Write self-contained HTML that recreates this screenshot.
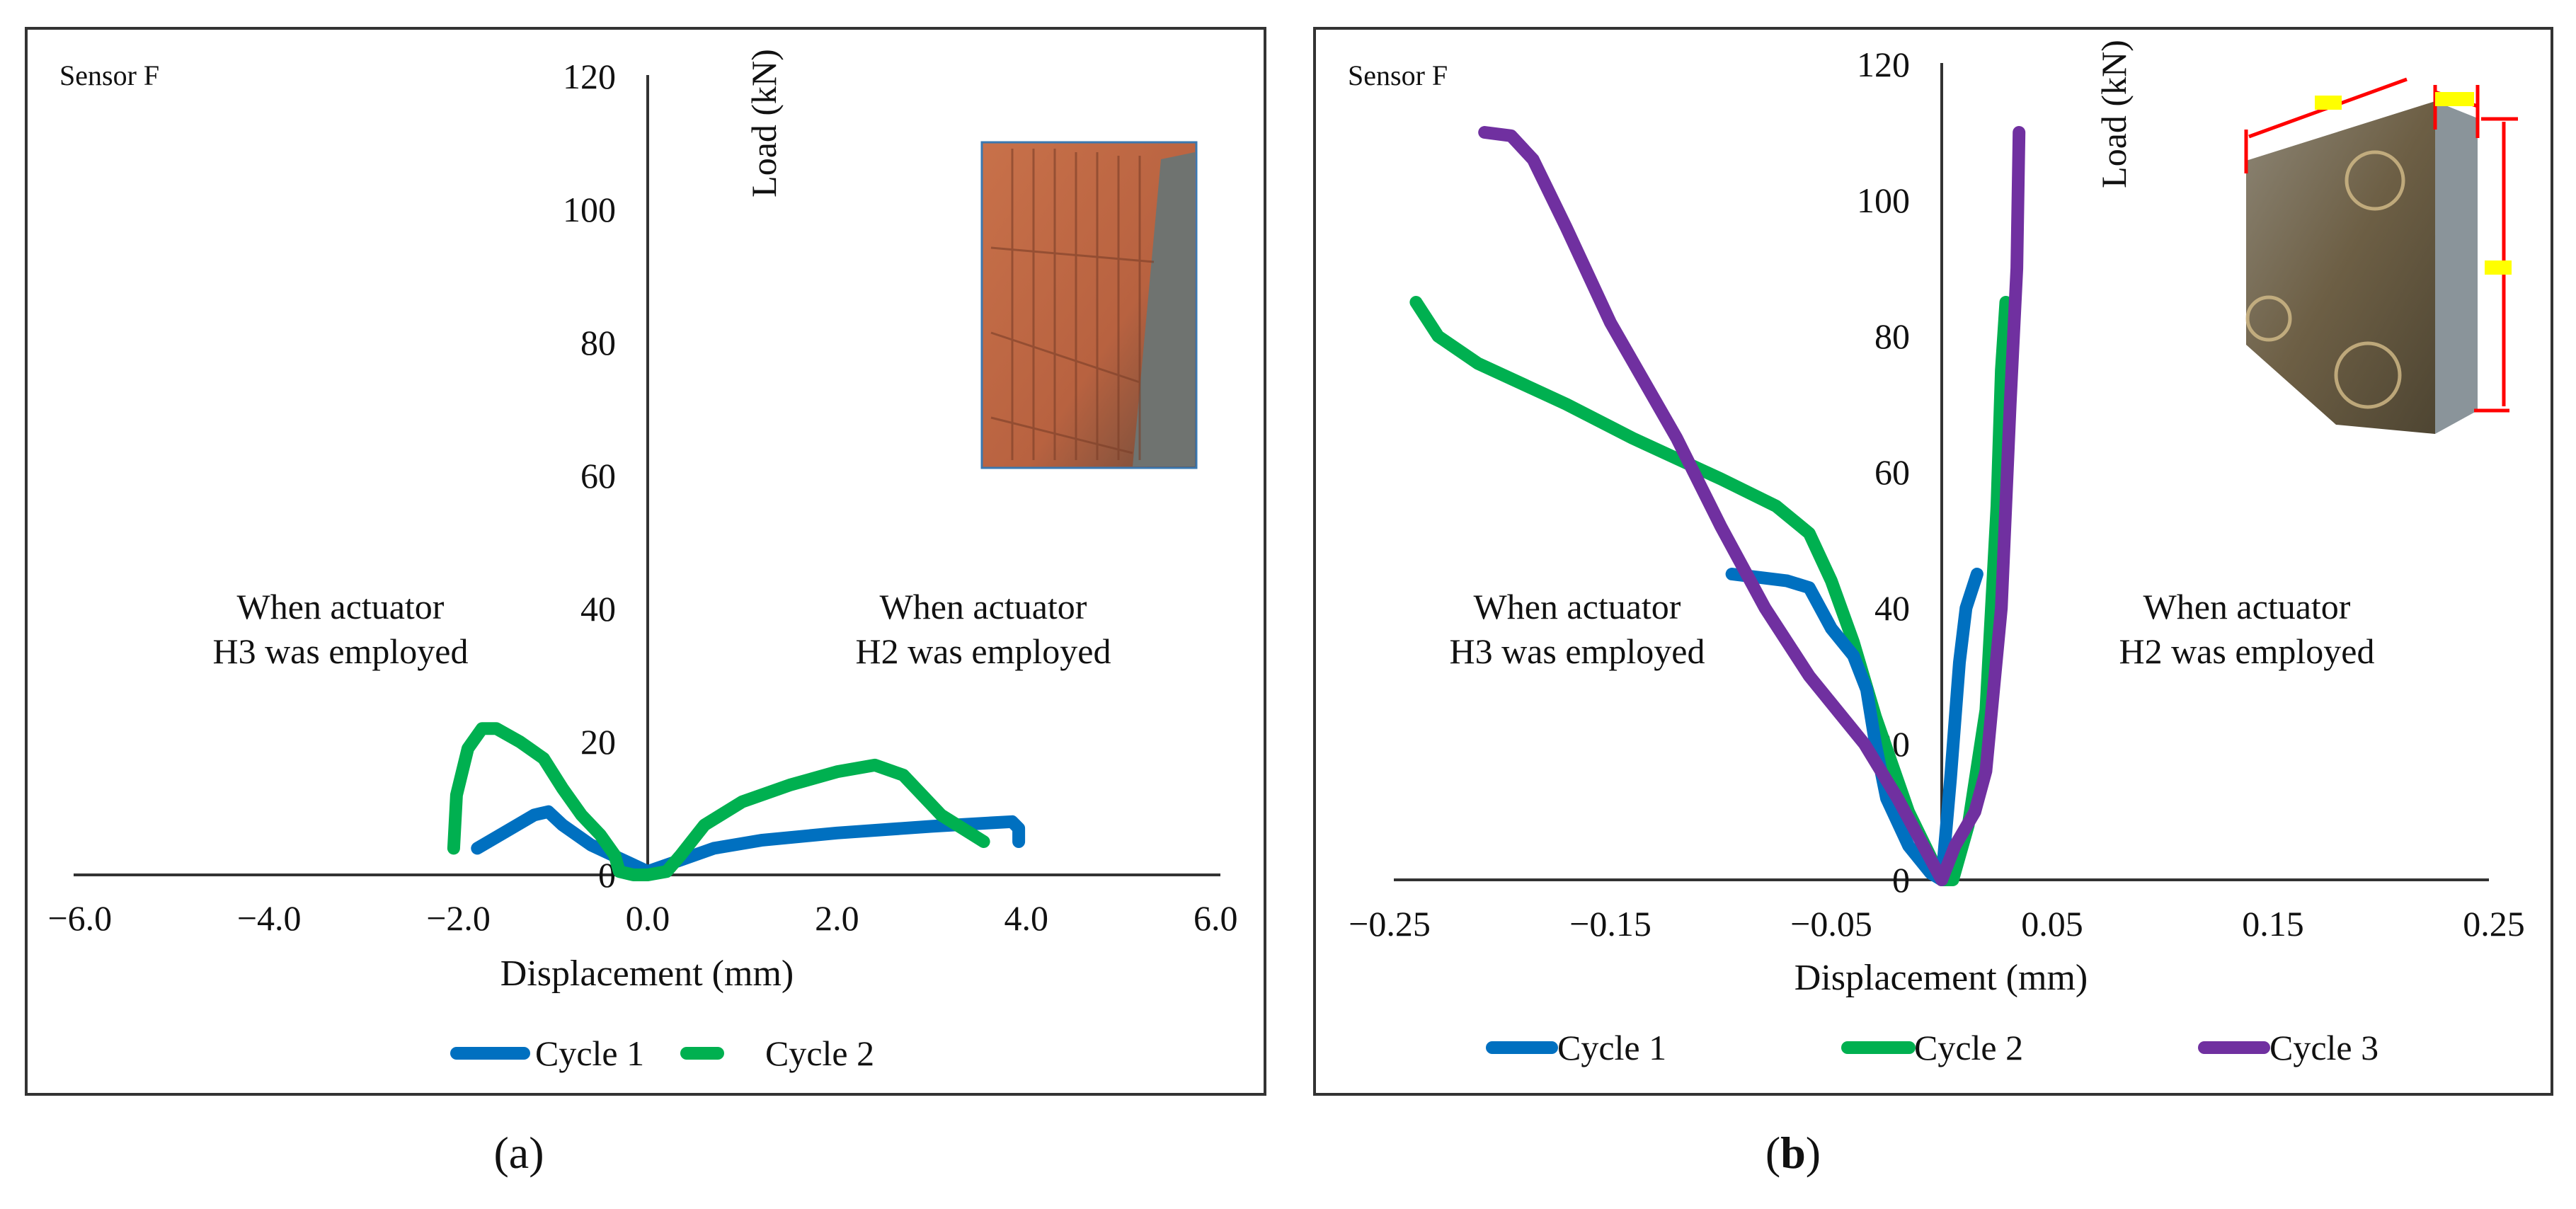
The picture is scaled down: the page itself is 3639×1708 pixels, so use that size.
<!DOCTYPE html>
<html><head><meta charset="utf-8"><style>
html,body{margin:0;padding:0;background:#fff;}
svg{display:block;}
text{font-family:"Liberation Serif",serif;fill:#111;}
</style></head><body>
<svg id="fig" width="3639" height="1708" viewBox="0 0 3639 1708" xmlns="http://www.w3.org/2000/svg">
<defs>
<linearGradient id="brick" x1="0" y1="0" x2="1" y2="1"><stop offset="0" stop-color="#c8714a"/><stop offset="0.6" stop-color="#b86240"/><stop offset="1" stop-color="#6a4a3a"/></linearGradient>
<linearGradient id="wall" x1="0" y1="0" x2="1" y2="1"><stop offset="0" stop-color="#8d8676"/><stop offset="0.5" stop-color="#6d5f45"/><stop offset="1" stop-color="#4e4532"/></linearGradient>
</defs>
<rect x="37" y="40" width="1750" height="1506" fill="none" stroke="#333" stroke-width="4"/>
<rect x="1857" y="40" width="1748" height="1506" fill="none" stroke="#333" stroke-width="4"/>

<g>
<rect x="1387" y="201" width="303" height="460" fill="url(#brick)" stroke="#3a78b0" stroke-width="3"/>
<polygon points="1640,225 1688,215 1688,659 1600,659" fill="#6f7370"/>
<g stroke="#7a3e28" stroke-width="3" opacity="0.6">
<line x1="1400" y1="350" x2="1630" y2="370"/><line x1="1400" y1="470" x2="1610" y2="540"/><line x1="1400" y1="590" x2="1600" y2="640"/>
<line x1="1430" y1="210" x2="1430" y2="650"/><line x1="1460" y1="210" x2="1460" y2="650"/><line x1="1490" y1="210" x2="1490" y2="650"/><line x1="1520" y1="215" x2="1520" y2="650"/><line x1="1550" y1="215" x2="1550" y2="650"/><line x1="1580" y1="220" x2="1580" y2="650"/><line x1="1610" y1="220" x2="1610" y2="650"/>
</g>
</g>

<g>
<polygon points="3173,227 3440,143 3440,613 3300,600 3173,487" fill="url(#wall)"/>
<polygon points="3440,143 3500,167 3500,580 3440,613" fill="#8a949a"/>
<g fill="none" stroke="#d4bd8a" stroke-width="5" opacity="0.8">
<circle cx="3355" cy="255" r="40"/><circle cx="3345" cy="530" r="45"/><circle cx="3205" cy="450" r="30"/>
</g>
<g stroke="#ff0000" stroke-width="5" fill="none">
<line x1="3173" y1="183" x2="3173" y2="245"/><line x1="3177" y1="193" x2="3400" y2="112"/>
<line x1="3440" y1="120" x2="3440" y2="183"/><line x1="3500" y1="120" x2="3500" y2="195"/><line x1="3440" y1="130" x2="3500" y2="150"/>
<line x1="3537" y1="172" x2="3537" y2="574"/><line x1="3505" y1="168" x2="3557" y2="168"/><line x1="3495" y1="580" x2="3545" y2="580"/>
</g>
<rect x="3270" y="135" width="38" height="20" fill="#ffff00"/><rect x="3440" y="130" width="55" height="20" fill="#ffff00"/><rect x="3510" y="368" width="38" height="20" fill="#ffff00"/>
</g>

<g id="chartA"></g>
<g id="chartB"></g>

<text x="733" y="1650" text-anchor="middle" font-size="64">(<tspan>a</tspan>)</text>
<text x="2533" y="1650" text-anchor="middle" font-size="64">(<tspan font-weight="bold">b</tspan>)</text>
</svg>
<script>
// ---- Panel A data ----
const aXTicks = [-6, -4, -2, 0, 2, 4, 6];
const aXTickLabels = ["\u22126.0", "\u22124.0", "\u22122.0", "0.0", "2.0", "4.0", "6.0"];
const aYTicks = [0, 20, 40, 60, 80, 100, 120];
const aC1x = [-1.8, -1.5, -1.2, -1.05, -0.9, -0.6, -0.3, 0, 0.3, 0.7, 1.2, 2.0, 3.0, 3.6, 3.85, 3.92, 3.92];
const aC1y = [4, 6.5, 9, 9.5, 7.5, 4.5, 2.5, 0.5, 2, 4, 5.2, 6.3, 7.3, 7.8, 8, 7, 5];
const aC2x = [-2.05, -2.02, -1.9, -1.75, -1.6, -1.35, -1.1, -0.9, -0.7, -0.5, -0.35, -0.3, -0.15, 0, 0.2, 0.35, 0.6, 1.0, 1.5, 2.0, 2.4, 2.7, 3.1, 3.55];
const aC2y = [4, 12, 19, 22, 22, 20, 17.5, 13, 9, 6, 3, 0.5, 0, 0, 0.5, 3, 7.5, 11, 13.5, 15.5, 16.5, 15, 9, 5];
// ---- Panel B data ----
const bXTicks = [-0.25, -0.15, -0.05, 0.05, 0.15, 0.25];
const bXTickLabels = ["\u22120.25", "\u22120.15", "\u22120.05", "0.05", "0.15", "0.25"];
const bYTicks = [0, 20, 40, 60, 80, 100, 120];
const bC1x = [-0.095, -0.07, -0.06, -0.05, -0.04, -0.034, -0.03, -0.025, -0.015, -0.005, 0, 0.004, 0.008, 0.011, 0.016];
const bC1y = [45, 44, 43, 37, 33, 28, 20, 12, 5, 1, 0, 15, 32, 40, 45];
const bC2x = [-0.238, -0.228, -0.21, -0.17, -0.14, -0.1, -0.075, -0.06, -0.05, -0.04, -0.03, -0.015, 0, 0.005, 0.012, 0.02, 0.025, 0.027, 0.029];
const bC2y = [85, 80, 76, 70, 65, 59, 55, 51, 44, 35, 24, 10, 0, 0, 8, 25, 55, 75, 85];
const bC3x = [-0.207, -0.195, -0.185, -0.17, -0.15, -0.12, -0.1, -0.08, -0.06, -0.035, -0.02, 0, 0.006, 0.015, 0.02, 0.027, 0.031, 0.034, 0.035];
const bC3y = [110, 109.5, 106, 96, 82, 65, 52, 40, 30, 20, 12, 0, 5, 10, 16, 40, 70, 90, 110];

const NS = "http://www.w3.org/2000/svg";
function mk(parent, tag, attrs, txt) {
  const e = document.createElementNS(NS, tag);
  for (const k in attrs) e.setAttribute(k, attrs[k]);
  if (txt !== undefined) e.textContent = txt;
  parent.appendChild(e);
  return e;
}

function drawChart(g, cfg) {
  const sx = v => cfg.x0 + v * cfg.kx;
  const sy = v => cfg.y0 - v * cfg.ky;
  let e;
  e = mk(g, "line", {x1: cfg.axL, x2: cfg.axR, y1: sy(0), y2: sy(0), stroke: "#333", "stroke-width": 4});
  
  
  e = mk(g, "line", {x1: sx(0), x2: sx(0), y1: sy(120) - 2, y2: sy(0), stroke: "#333", "stroke-width": 4});
  
  
  cfg.yTicks.forEach(v => {
    const t = mk(g, "text", {x: cfg.yLabR, y: sy(v) + 17, "text-anchor": "end", "font-size": 50}, String(v));
    
    
  });
  cfg.xTicks.forEach((v, i) => {
    const t = mk(g, "text", {x: sx(v), y: cfg.xLabY, "text-anchor": "middle", "font-size": 50}, cfg.xLabels[i]);
    
    
  });
  cfg.series.forEach(s => {
    const d = s.x.map((xv, i) => (i ? "L" : "M") + sx(xv).toFixed(1) + "," + sy(s.y[i]).toFixed(1)).join(" ");
    const p = mk(g, "path", {d: d, fill: "none", stroke: s.color, "stroke-width": 18, "stroke-linecap": "round", "stroke-linejoin": "round"});
    
    
  });
}

const gA = document.getElementById("chartA");
drawChart(gA, {x0: 915, kx: 133.7, y0: 1236, ky: 9.4, axL: 104, axR: 1724, yLabR: 870, xLabY: 1314,
  xTicks: aXTicks, xLabels: aXTickLabels, yTicks: aYTicks,
  series: [{x: aC1x, y: aC1y, color: "#0070c0", name: "cycle-1-line"}, {x: aC2x, y: aC2y, color: "#00b050", name: "cycle-2-line"}]});
const gB = document.getElementById("chartB");
drawChart(gB, {x0: 2743, kx: 3120, y0: 1243, ky: 9.6, axL: 1969, axR: 3516, yLabR: 2698, xLabY: 1322,
  xTicks: bXTicks, xLabels: bXTickLabels, yTicks: bYTicks,
  series: [{x: bC2x, y: bC2y, color: "#00b050", name: "cycle-2-line"}, {x: bC1x, y: bC1y, color: "#0070c0", name: "cycle-1-line"}, {x: bC3x, y: bC3y, color: "#7030a0", name: "cycle-3-line"}]});

function addText(g, x, y, txt, size, anchor, name, rot) {
  const t = mk(g, "text", {x: x, y: y, "font-size": size, "text-anchor": anchor || "start"}, txt);
  if (rot) t.setAttribute("transform", "rotate(-90 " + x + " " + y + ")");
  
  
}
function addLegend(g, x1, x2, y, color, tx, txt) {
  const l = mk(g, "line", {x1: x1, x2: x2, y1: y, y2: y, stroke: color, "stroke-width": 18, "stroke-linecap": "round"});
  
  
  const t = mk(g, "text", {x: tx, y: y + 17, "font-size": 50}, txt);
  
  
}
addText(gA, 84, 120, "Sensor F", 40, "start", "sensor-label");
addText(gA, 1096, 174, "Load (kN)", 50, "middle", "y-axis-title", true);
addText(gA, 914, 1392, "Displacement (mm)", 52, "middle", "x-axis-title");
addText(gA, 481, 874, "When actuator", 50, "middle", "annotation-h3");
addText(gA, 481, 937, "H3 was employed", 50, "middle", "annotation-h3");
addText(gA, 1389, 874, "When actuator", 50, "middle", "annotation-h2");
addText(gA, 1389, 937, "H2 was employed", 50, "middle", "annotation-h2");
addLegend(gA, 645, 740, 1488, "#0070c0", 756, "Cycle 1");
addLegend(gA, 970, 1014, 1488, "#00b050", 1081, "Cycle 2");
addText(gB, 1904, 120, "Sensor F", 40, "start", "sensor-label");
addText(gB, 3003, 161, "Load (kN)", 50, "middle", "y-axis-title", true);
addText(gB, 2742, 1398, "Displacement (mm)", 52, "middle", "x-axis-title");
addText(gB, 2228, 874, "When actuator", 50, "middle", "annotation-h3");
addText(gB, 2228, 937, "H3 was employed", 50, "middle", "annotation-h3");
addText(gB, 3174, 874, "When actuator", 50, "middle", "annotation-h2");
addText(gB, 3174, 937, "H2 was employed", 50, "middle", "annotation-h2");
addLegend(gB, 2108, 2192, 1480, "#0070c0", 2200, "Cycle 1");
addLegend(gB, 2610, 2697, 1480, "#00b050", 2704, "Cycle 2");
addLegend(gB, 3114, 3198, 1480, "#7030a0", 3206, "Cycle 3");
</script>
</body></html>
